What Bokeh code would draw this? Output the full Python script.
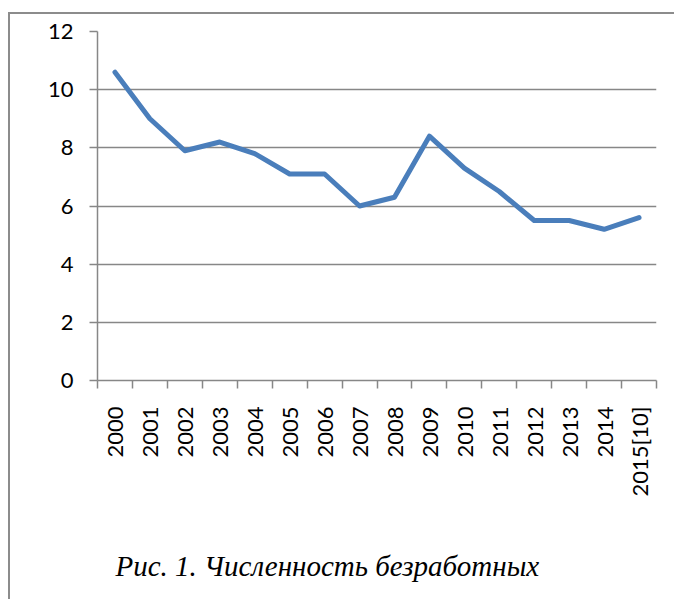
import math
from bokeh.plotting import figure
from bokeh.models import FixedTicker, Range1d, Title, InlineStyleSheet
from bokeh.embed import file_html
from bokeh.resources import INLINE

years = ["2000", "2001", "2002", "2003", "2004", "2005", "2006", "2007",
         "2008", "2009", "2010", "2011", "2012", "2013", "2014", "2015[10]"]
unemployed = [10.6, 9.0, 7.9, 8.2, 7.8, 7.1, 7.1, 6.0,
              6.3, 8.4, 7.3, 6.5, 5.5, 5.5, 5.2, 5.6]
y_ticks = [0, 2, 4, 6, 8, 10, 12]
caption = "Рис. 1. Численность безработных"

GRAY = "#878787"
FRAME = "#8c8c8c"
FONT = "Lato"

x = list(range(len(years)))
boundaries = [i - 0.5 for i in range(len(years) + 1)]

p = figure(width=674, height=599, output_backend="svg", toolbar_location=None,
           x_range=Range1d(-0.5, len(years) - 0.5),
           y_range=Range1d(y_ticks[0], y_ticks[-1]),
           min_border_left=97, min_border_right=18,
           min_border_top=31, min_border_bottom=219)
p.outline_line_color = None
p.background_fill_color = "white"
p.border_fill_color = None
p.stylesheets = [InlineStyleSheet(css=(
    ":host { background-color: white; "
    f"background-image: linear-gradient(to right, {FRAME}, {FRAME}), "
    f"linear-gradient(to right, {FRAME}, {FRAME}); "
    "background-position: 8px 12px, 8px 12px; "
    "background-size: 2px 700px, 700px 2px; "
    "background-repeat: no-repeat; }"
))]

# grid
p.xgrid.visible = False
p.ygrid.ticker = FixedTicker(ticks=y_ticks, minor_ticks=[])
p.ygrid.grid_line_color = GRAY
p.ygrid.grid_line_width = 1.5

# y axis
ya = p.yaxis[0]
ya.ticker = FixedTicker(ticks=y_ticks, minor_ticks=[])
ya.axis_line_color = GRAY
ya.axis_line_width = 1.5
ya.major_tick_line_color = GRAY
ya.major_tick_line_width = 1.5
ya.major_tick_out = 8
ya.major_tick_in = 0
ya.minor_tick_line_color = None
ya.major_label_standoff = 16
ya.major_label_text_font = FONT
ya.major_label_text_font_size = "22px"
ya.major_label_text_color = "black"

# x axis
xa = p.xaxis[0]
xa.ticker = FixedTicker(ticks=x, minor_ticks=boundaries)
xa.axis_line_color = GRAY
xa.axis_line_width = 1.5
xa.major_tick_out = 0
xa.major_tick_in = 0
xa.major_tick_line_color = None
xa.minor_tick_line_color = GRAY
xa.minor_tick_line_width = 1.5
xa.minor_tick_out = 8
xa.minor_tick_in = 0
xa.major_label_overrides = {i: y for i, y in zip(x, years)}
xa.major_label_orientation = math.pi / 2
xa.major_label_standoff = 18
xa.major_label_text_font = FONT
xa.major_label_text_font_size = "22px"
xa.major_label_text_color = "black"

# data line
p.line(x, unemployed, line_color="#4A7EBB", line_width=5,
       line_join="round", line_cap="round")

# spacer between axis labels and caption, then caption
p.add_layout(Title(text=" ", text_font_size="10px", standoff=18), "below")
p.add_layout(Title(text=caption, align="left", offset=18, standoff=34,
                   text_font="Liberation Serif", text_font_style="italic",
                   text_font_size="29px", text_color="black"), "below")

open("out.html", "w").write(file_html(p, INLINE))
